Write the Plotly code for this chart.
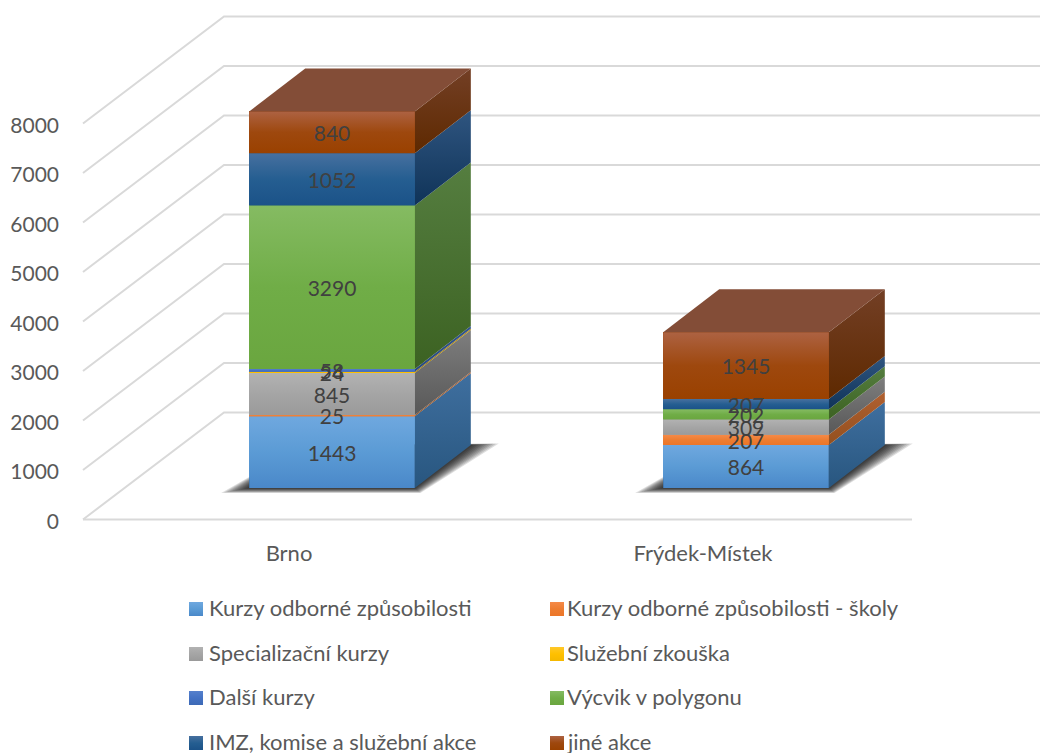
import plotly.graph_objects as go

# ---------- data ----------
categories = ["Brno", "Frýdek-Místek"]
series_names = ["Kurzy odborné způsobilosti", "Kurzy odborné způsobilosti - školy",
                "Specializační kurzy", "Služební zkouška", "Další kurzy",
                "Výcvik v polygonu", "IMZ, komise a služební akce", "jiné akce"]
kurzy_odborne = [1443, 864]
kurzy_skoly = [25, 207]
specializacni = [845, 309]
sluzebni_zkouska = [24, None]
dalsi_kurzy = [58, None]
vycvik = [3290, 202]
imz = [1052, 207]
jine = [840, 1345]
y_ticks = [0, 1000, 2000, 3000, 4000, 5000, 6000, 7000, 8000]

series_values = [kurzy_odborne, kurzy_skoly, specializacni, sluzebni_zkouska,
                 dalsi_kurzy, vycvik, imz, jine]

# ---------- styles: (base, front-top, side-top, side-bottom, front-bottom) ----------
styles = [
    ("#5B9BD5", "#6FA8DF", "#3F6F9F", "#28567F", "#4A88C9"),
    ("#ED7D31", "#F58A48", "#B06030", "#93501F", "#EC7628"),
    ("#A5A5A5", "#B2B2B2", "#7E7E7E", "#585858", "#9A9A9A"),
    ("#FFC000", "#FFC82A", "#C09000", "#A07800", "#F5B800"),
    ("#4472C4", "#5580CC", "#33558F", "#2A4A80", "#3D69B5"),
    ("#70AD47", "#85BB62", "#557E40", "#3C6222", "#6AA63F"),
    ("#255E91", "#47709F", "#2F5580", "#0F3358", "#1B5288"),
    ("#9E480E", "#AD6242", "#733F25", "#5E2900", "#9A4100"),
]
TOP_COLOR = "#834D37"
GRID = "#D9D9D9"

# ---------- geometry (scale factors of the oblique projection) ----------
W, H = 1040, 753
PX_PER_X = 414.0      # pixels per category step
PX_PER_VAL = 0.0497   # pixels per value unit
BRNO_PX = 332.0       # pixel of first category centre
ZERO_BAR_PX = 488.0   # value 0 of the bar plane
ZERO_WALL_PX = 519.5  # value 0 of the front edge of the walls
WALL_PX_PER_VAL = 0.0495
BAR_W = 0.4


def xpx(px):
    return (px - BRNO_PX) / PX_PER_X


def ypx(px):  # pixel row -> bar-plane value
    return (ZERO_BAR_PX - px) / PX_PER_VAL


DX_BAR, DY_BAR = 56 / PX_PER_X, 43 / PX_PER_VAL
DX_WALL, DY_WALL = 141 / PX_PER_X, 107 / WALL_PX_PER_VAL
WALL_LEFT, WALL_BACK_LEFT = xpx(83), xpx(224)
WALL_FRONT_RIGHT, WALL_BACK_RIGHT = xpx(912), xpx(1040)

fig = go.Figure()


def poly(xs, ys, c0, stops=None, name=None):
    kw = {}
    if stops is None:
        kw["fillcolor"] = c0
    else:
        kw["fillgradient"] = dict(type="vertical", colorscale=stops)
    fig.add_trace(go.Scatter(x=list(xs) + [xs[0]], y=list(ys) + [ys[0]], mode="lines",
                             fill="toself", line=dict(width=0), hoverinfo="skip",
                             showlegend=False, yaxis="y2", name=name, **kw))


# ---------- walls: grid lines on the lower axis, under everything ----------
gx, gy = [WALL_LEFT, WALL_FRONT_RIGHT, None], [0, 0, None]
for v in y_ticks:
    gx += [WALL_LEFT, WALL_BACK_LEFT, WALL_BACK_RIGHT, None]
    gy += [v, v + DY_WALL, v + DY_WALL, None]
fig.add_trace(go.Scatter(x=gx, y=gy, mode="lines", line=dict(color=GRID, width=2),
                         hoverinfo="skip", showlegend=False, yaxis="y"))

# ---------- bars ----------
for name, vals, st in zip(series_names, series_values, styles):
    fig.add_trace(go.Bar(x=[0, 1], y=vals, width=BAR_W, name=name, yaxis="y2",
                         marker=dict(color=st[0], line=dict(width=0)),
                         showlegend=False, hoverinfo="skip"))

# ---------- floor shadows ----------
for i, cat in enumerate(categories):
    xl, xr = i - BAR_W / 2, i + BAR_W / 2
    for t in (1.0, 0.9, 0.8, 0.7, 0.6, 0.5, 0.4, 0.3, 0.2, 0.1):
        ex, ey = 28 * t / PX_PER_X, 5 * t / PX_PER_VAL
        poly([xl - ex, xr + 0.2 * ex, xr + DX_BAR + ex, xl + DX_BAR],
             [-ey, -ey, DY_BAR + 0.3 * ey, DY_BAR], "rgba(0,0,0,0.13)")

# ---------- 3D faces ----------
label_x, label_y, label_t = [], [], []
for i, cat in enumerate(categories):
    xl, xr = i - BAR_W / 2, i + BAR_W / 2
    base = 0
    for name, vals, st in zip(series_names, series_values, styles):
        v = vals[i]
        if not v:
            continue
        top = base + v
        # side
        poly([xr, xr + DX_BAR, xr + DX_BAR, xr], [base, base + DY_BAR, top + DY_BAR, top],
             st[3], stops=[[0, st[3]], [1, st[2]]])
        # front
        poly([xl, xr, xr, xl], [base, base, top, top], st[0], name=name,
             stops=[[0, st[4]], [0.5, st[0]], [1, st[1]]])
        label_x.append(i)
        label_y.append(base + v / 2 - 3.5 / PX_PER_VAL)
        label_t.append(str(v))
        base = top
    # top
    poly([xl, xr, xr + DX_BAR, xl + DX_BAR], [base, base, base + DY_BAR, base + DY_BAR], TOP_COLOR)

fig.add_trace(go.Scatter(x=label_x, y=label_y, text=label_t, mode="text", yaxis="y2",
                         textposition="middle center", hoverinfo="skip", showlegend=False,
                         textfont=dict(family="Lato", size=21, color="#404040")))

# ---------- legend ----------
legend_cols = [189, 550]
legend_text_cols = [207, 565]
legend_rows = [609, 654, 698, 743]
annotations = []
for k, (name, st) in enumerate(zip(series_names, styles)):
    c, r = k % 2, k // 2
    x0, x1 = xpx(legend_cols[c]), xpx(legend_cols[c] + 14)
    y0, y1 = ypx(legend_rows[r] + 7), ypx(legend_rows[r] - 7)
    poly([x0, x1, x1, x0], [y0, y0, y1, y1], st[0],
         stops=[[0, st[4]], [0.5, st[0]], [1, st[1]]])
    annotations.append(dict(x=legend_text_cols[c] / W, y=1 - (legend_rows[r] - 2) / H, xref="paper", yref="paper",
                            text=name, showarrow=False, xanchor="left", yanchor="middle",
                            font=dict(family="Lato", size=22, color="#595959")))

fig.update_layout(
    width=W, height=H, margin=dict(l=0, r=0, t=0, b=0), barmode="stack",
    paper_bgcolor="white", plot_bgcolor="white", showlegend=False,
    annotations=annotations,
    xaxis=dict(range=[xpx(0), xpx(W)], domain=[0, 1], showgrid=False, zeroline=False, showline=False,
               tickmode="array", tickvals=[xpx(289), xpx(703)], ticktext=categories, ticks="",
               anchor="free", position=1 - 538 / H,
               tickfont=dict(family="Lato", size=22, color="#595959")),
    yaxis=dict(range=[-(H - ZERO_WALL_PX) / WALL_PX_PER_VAL, ZERO_WALL_PX / WALL_PX_PER_VAL], domain=[0, 1],
               showgrid=False, zeroline=False, showline=False, tickmode="array", tickvals=y_ticks,
               ticks="", anchor="free", position=59 / W, ticklabelshift=2,
               tickfont=dict(family="Lato", size=21, color="#595959")),
    yaxis2=dict(range=[-(H - ZERO_BAR_PX) / PX_PER_VAL, ZERO_BAR_PX / PX_PER_VAL], domain=[0, 1],
                overlaying="y", visible=False),
)

fig.write_html("out.html", post_script="document.body.style.margin='0';window.dispatchEvent(new Event('resize'));",
               config=dict(displayModeBar=False))
